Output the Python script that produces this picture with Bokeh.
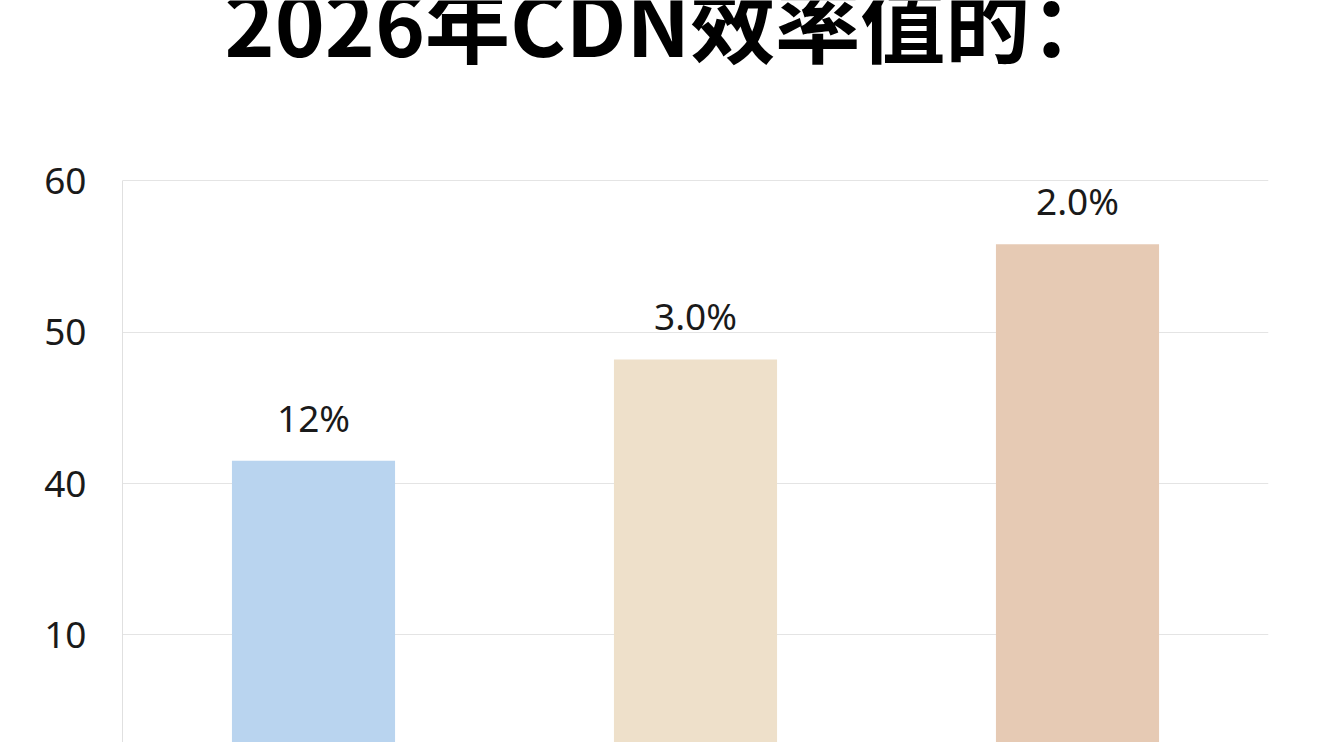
from bokeh.plotting import figure
from bokeh.models import FixedTicker, ColumnDataSource, Range1d, FactorRange, Label
from bokeh.core.properties import value
from bokeh.embed import file_html
from bokeh.resources import INLINE

title_text = "2026年CDN效率值的："
categories = ["A", "B", "C"]
values = [41.5, 48.2, 55.8]
bar_labels = ["12%", "3.0%", "2.0%"]
bar_colors = ["#b9d4ef", "#eee0ca", "#e6cab4"]
tick_values = [60, 50, 40, 30]
tick_labels = ["60", "50", "40", "10"]
y_start, y_top, y_view_end = 22.9, 60, 71.9

src = ColumnDataSource(dict(x=categories, top=values, label=bar_labels, color=bar_colors))

p = figure(width=1336, height=742, x_range=FactorRange(*categories),
           y_range=Range1d(y_start, y_view_end), output_backend="svg", toolbar_location=None,
           min_border_left=122, min_border_right=68, min_border_top=0, min_border_bottom=0)
p.outline_line_color = None
p.background_fill_color = "white"
p.border_fill_color = "white"

p.vbar(x="x", top="top", bottom=0, width=0.427, color="color", source=src, line_color=None)
p.text(x="x", y="top", text="label", source=src, y_offset=-18, text_align="center",
       text_baseline="bottom", text_font_size="37px", text_color="#1a1a1a",
       text_font=value("Noto Sans"))

p.xaxis.visible = False
p.xgrid.visible = False
p.yaxis.ticker = FixedTicker(ticks=tick_values)
p.yaxis.bounds = (y_start, y_top)
p.yaxis.major_label_overrides = {v: l for v, l in zip(tick_values, tick_labels)}
p.yaxis.major_label_text_font_size = "37px"
p.yaxis.major_label_text_color = "#1a1a1a"
p.yaxis.major_label_text_font = "Noto Sans"
p.yaxis.major_label_standoff = 30
p.yaxis.major_tick_line_color = None
p.yaxis.minor_tick_line_color = None
p.yaxis.axis_line_color = "#e0e0e0"
p.ygrid.grid_line_color = "#e4e4e4"
p.ygrid.grid_line_width = 1

p.add_layout(Label(x=102, y=723, x_units="screen", y_units="screen", text=title_text,
                   text_align="left", text_baseline="alphabetic", text_font_size="85px",
                   text_font_style="bold", text_color="black",
                   text_font="Noto Sans CJK SC"))

open("out.html", "w").write(file_html(p, INLINE))
